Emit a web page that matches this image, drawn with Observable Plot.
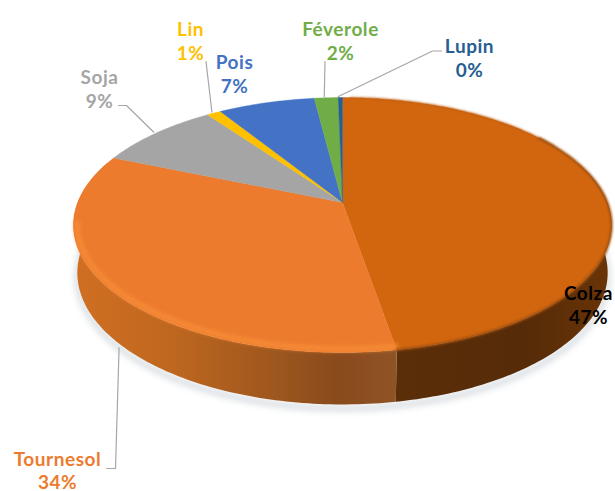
<!DOCTYPE html>
<html>
<head>
<meta charset="utf-8">
<script src="https://cdn.jsdelivr.net/npm/d3@7"></script>
<script src="https://cdn.jsdelivr.net/npm/@observablehq/plot@0.6"></script>
<style>html,body{margin:0;padding:0;background:#fff}svg{display:block}</style>
</head>
<body>
<div id="chart"></div>
<script>
const names  = ["Colza", "Tournesol", "Soja", "Lin", "Pois", "Féverole", "Lupin"];
const shares = [47.3, 34.0, 8.8, 1.0, 6.9, 1.7, 0.3];
const sliceColors = ["#D2660F", "#EC7B2E", "#A5A5A5", "#FFC000", "#4472C4", "#70AD47", "#255E91"];
const labelColors = ["#000000", "#EC7B2E", "#A5A5A5", "#FFC000", "#4472C4", "#70AD47", "#255E91"];

// Layout of the tilted disk (perspective projection of a circle)
const W = 615, H = 491;
const disk = {cx: 342, cy: 202, rx: 264.8, ry: 123.5, k: 0.1765};
const inner = {cx: 342, cy: 202, rx: 261, ry: 120.5, k: 0.1765};
const base = {cx: 342, cy: 249, rx: 261, ry: 127.6, k: 0.1765};
const project = (d, deg) => {
  const t = deg * Math.PI / 180, u = Math.sin(t), v = Math.cos(t), w = 1 + d.k * v;
  return {x: d.cx + d.rx * u / w, y: d.cy - d.ry * v / w};
};
const arc = (d, a0, a1, step = 1) => {
  const n = Math.max(2, Math.ceil(Math.abs(a1 - a0) / step));
  return d3.range(n + 1).map(i => project(d, a0 + (a1 - a0) * i / n));
};

// Slices accumulate clockwise from the top
let acc = 0;
const slices = names.map((name, i) => {
  const a0 = acc * 3.6; acc += shares[i]; const a1 = acc * 3.6;
  return {name, share: shares[i], a0, a1, mid: (a0 + a1) / 2, text: labelColors[i]};
});
const bySlice = Object.fromEntries(slices.map(s => [s.name, s]));
const topPts = slices.flatMap(s =>
  [{x: disk.cx, y: disk.cy}, ...arc(disk, s.a0, s.a1), {x: disk.cx, y: disk.cy}].map(p => ({...p, name: s.name})));

// The wall is visible along the near side of the disk
const wall = (a0, a1) => [...arc(disk, a0, a1), ...arc(base, a1, a0)];
const colza = bySlice["Colza"], tournesol = bySlice["Tournesol"];
const colzaWall = wall(70, colza.a1);
const tournesolWall = wall(colza.a1, 290);

// Label placement in the picture's frame
const labelPos = {
  "Colza": [588, 304], "Tournesol": [57, 469.5], "Soja": [99, 88], "Lin": [190, 40],
  "Pois": [234, 73], "Féverole": [340, 40], "Lupin": [469, 57]
};
const labels = slices.map(s => ({
  x: labelPos[s.name][0], y: labelPos[s.name][1], name: s.name, color: s.text,
  label: `${s.name}\n${Math.round(s.share)}%`
}));
const leaderVia = {
  "Soja": [[118, 105], [126, 105]], "Lin": [[205.5, 61]], "Féverole": [[324.5, 61]],
  "Lupin": [[441, 50.5], [432, 50.5]]
};
const leaders = Object.entries(leaderVia).flatMap(([name, via]) => {
  const end = project(disk, bySlice[name].mid);
  return [...via.map(([x, y]) => ({x, y})), {x: end.x - 2, y: end.y - 1}].map(p => ({...p, name}));
});
{
  const end = project(base, tournesol.mid);
  [[106, 468], [115, 468], [end.x + 6, end.y + 9]].forEach(([x, y]) => leaders.push({x, y, name: "Tournesol"}));
}

const gradient = (id, stops) => {
  const g = d3.create("svg:linearGradient").attr("id", id);
  stops.forEach(([o, c]) => g.append("stop").attr("offset", o).attr("stop-color", c));
  return g.node();
};
const defs = () => {
  const d = d3.create("svg:defs").node();
  d.append(gradient("sideT", [[0, "#D06F22"], [0.3, "#BF671F"], [0.6, "#A0581E"], [0.82, "#894A1C"], [1, "#8F5426"]]));
  d.append(gradient("sideC", [[0, "#5A2E08"], [0.6, "#562B08"], [1, "#6A3406"]]));
  return d;
};

const chart = Plot.plot({
  width: W, height: H, margin: 0,
  x: {axis: null, domain: [0, W]},
  y: {axis: null, domain: [H, 0]},
  color: {domain: names, range: sliceColors},
  style: {letterSpacing: "0.55px"},
  marks: [
    defs,
    // soft ground shadow
    Plot.line(arc(base, 70, 290), {x: "x", y: d => d.y + 4, stroke: "#B4BEC6", strokeWidth: 6, strokeOpacity: 0.5, imageFilter: "blur(3px)"}),
    Plot.line(colzaWall, {x: "x", y: "y", fill: "url(#sideC)", stroke: "none"}),
    Plot.line(tournesolWall, {x: "x", y: "y", fill: "url(#sideT)", stroke: "none"}),
    Plot.line(topPts, {x: "x", y: "y", z: "name", fill: "name", stroke: "name", strokeWidth: 0.4}),
    // bevel on the rim of the two big slices
    Plot.line(arc(inner, tournesol.a0, tournesol.a1 - 32), {x: "x", y: "y", stroke: "#F68C36", strokeWidth: 5, imageFilter: "blur(2px)"}),
    Plot.line(arc(disk, 2, 60), {x: "x", y: "y", stroke: "#B85C10", strokeWidth: 1.2, imageFilter: "blur(0.8px)"}),
    Plot.line(arc(disk, 55, colza.a1), {x: "x", y: "y", stroke: "#9A4E10", strokeWidth: 2.2, imageFilter: "blur(1.2px)"}),
    Plot.line(leaders, {x: "x", y: "y", z: "name", stroke: "#A6A6A6", strokeWidth: 1.2}),
    Plot.text(labels, {
      x: "x", y: "y", text: "label", fill: "color", fontFamily: "Lato", fontWeight: 700,
      fontSize: 19, lineHeight: 1.22, textAnchor: "middle"
    })
  ]
});
document.getElementById("chart").append(chart);
</script>
</body>
</html>
